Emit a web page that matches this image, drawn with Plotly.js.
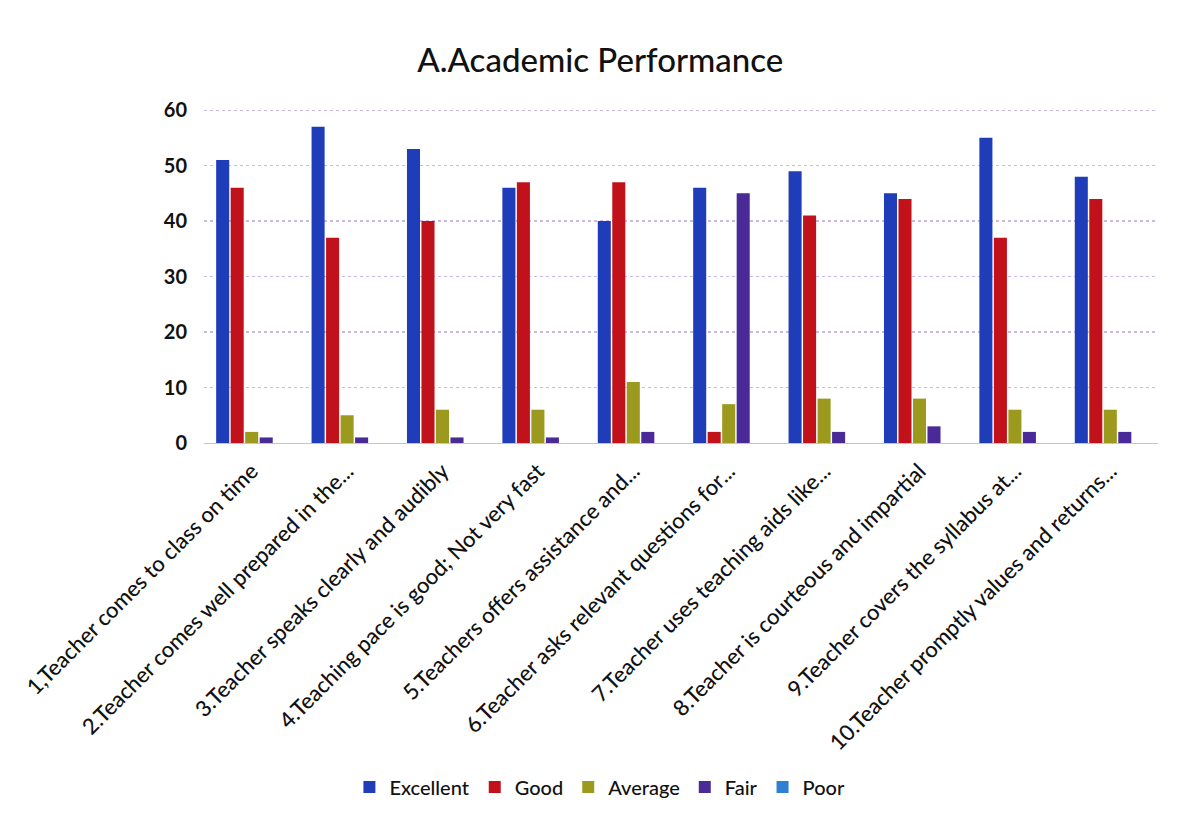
<!DOCTYPE html>
<html>
<head>
<meta charset="utf-8">
<script src="https://cdn.plot.ly/plotly-3.0.1.min.js"></script>
<style>html,body{margin:0;padding:0;background:#fff;}#chart{width:1177px;height:819px;}</style>
</head>
<body>
<div id="chart"></div>
<script>
const categories = [
  "1,Teacher comes to class on time",
  "2.Teacher comes well prepared in the...",
  "3.Teacher speaks clearly and audibly",
  "4.Teaching pace is good; Not very fast",
  "5.Teachers offers assistance and...",
  "6.Teacher asks relevant questions for...",
  "7.Teacher uses teaching aids like...",
  "8.Teacher is courteous and impartial",
  "9.Teacher covers the syllabus at...",
  "10.Teacher promptly values and returns..."
];
const excellent = [51, 57, 53, 46, 40, 46, 49, 45, 55, 48];
const good      = [46, 37, 40, 47, 47, 2, 41, 44, 37, 44];
const average   = [2, 5, 6, 6, 11, 7, 8, 8, 6, 6];
const fair      = [1, 1, 1, 1, 2, 45, 2, 3, 2, 2];
const poor      = [0, 0, 0, 0, 0, 0, 0, 0, 0, 0];
const yTicks    = [0, 10, 20, 30, 40, 50, 60];

const seriesNames = ["Excellent", "Good", "Average", "Fair", "Poor"];
const seriesData = [excellent, good, average, fair, poor];
const seriesColors = ["#1f3db8", "#c1121c", "#9c9a1e", "#4a2a96", "#2f7fd3"];

const traces = seriesData.map((vals, i) => ({
  type: "bar",
  name: seriesNames[i],
  x: categories,
  y: vals,
  marker: {color: seriesColors[i]}
}));

const font = "Lato, 'Open Sans', sans-serif";
const layout = {
  width: 1177, height: 819,
  paper_bgcolor: "#ffffff", plot_bgcolor: "#ffffff",
  margin: {l: 204, r: 19, t: 109, b: 376},
  title: {text: "A.Academic Performance", x: 0.51, xanchor: "center", y: 0.926, yanchor: "middle",
          font: {family: font, size: 33, color: "#111111", weight: 500}},
  barmode: "group", bargap: 0.24, bargroupgap: 0.1,
  xaxis: {type: "category", tickangle: -45, showgrid: false, zeroline: false,
          showline: false, ticks: "", ticklabelshift: 0, ticklabelstandoff: 10,
          tickfont: {family: font, size: 22, color: "#111111", weight: 500}},
  yaxis: {range: [0, 60.2], tickvals: yTicks, showgrid: true, gridcolor: "#cdb8e2",
          griddash: "dot", gridwidth: 1.2, zeroline: true, zerolinecolor: "#c8c0d8",
          ticks: "", ticklen: 0, ticklabelstandoff: 16,
          tickfont: {family: font, size: 20, color: "#111111", weight: 700},
          automargin: false},
  showlegend: true,
  legend: {orientation: "h", x: 0.415, xanchor: "center", y: -1.03, yanchor: "middle",
           font: {family: font, size: 20, color: "#111111", weight: 500}, traceorder: "normal",
           itemwidth: 30}
};
Plotly.newPlot("chart", traces, layout, {displayModeBar: false, staticPlot: true});
</script>
</body>
</html>
